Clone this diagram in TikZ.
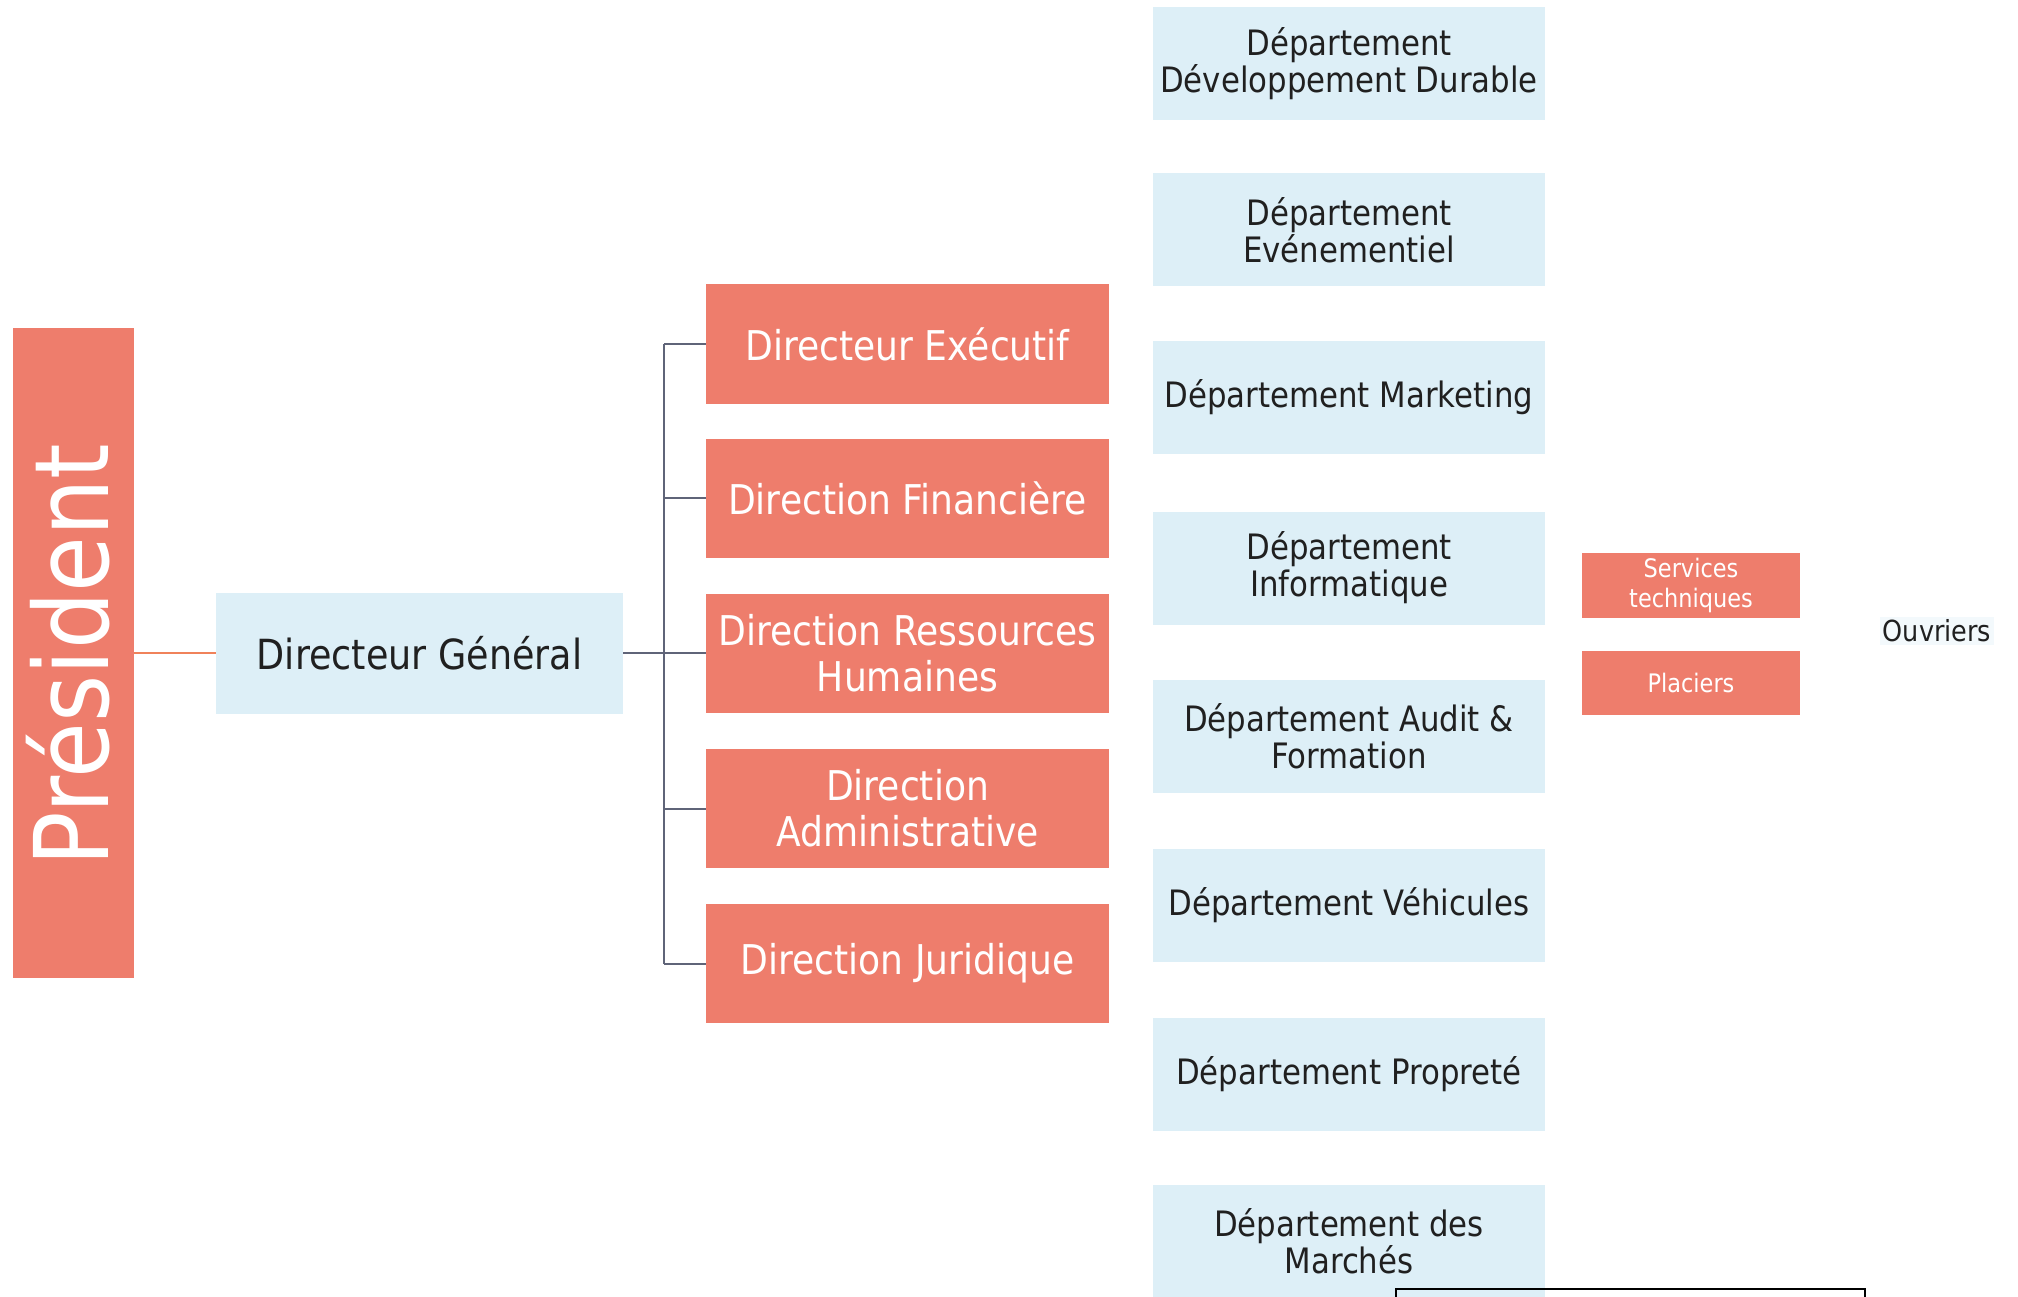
\documentclass[tikz,border=0pt]{standalone}
\usepackage{fontspec}
\setmainfont{DejaVu Sans}[FakeStretch=0.88]
\definecolor{redbox}{RGB}{238,125,108}
\definecolor{bluebox}{RGB}{221,239,247}
\definecolor{txtcol}{RGB}{32,32,32}
\definecolor{conncol}{RGB}{95,100,120}
\definecolor{orangeline}{RGB}{240,130,90}
\tikzset{
  redstyle/.style={fill=redbox, text=white, inner sep=0pt, minimum width=403pt, minimum height=119pt, align=center, font=\fontsize{41}{46}\selectfont},
  deptstyle/.style={fill=bluebox, text=txtcol, inner sep=0pt, minimum width=392pt, minimum height=113pt, align=center, font=\fontsize{35}{37}\selectfont},
  smallred/.style={fill=redbox, text=white, inner sep=0pt, minimum width=218pt, minimum height=64pt, align=center, font=\fontsize{25.5}{30}\selectfont},
  connline/.style={draw=conncol, line width=2pt},
}
\begin{document}
\begin{tikzpicture}[x=1pt,y=-1pt]
\useasboundingbox[fill=white] (0,0) rectangle (2018,1297);

% President
\node[fill=redbox, inner sep=0pt, minimum width=121pt, minimum height=650pt] (pres) at (73.5,653) {};
\node[text=white, rotate=90, font=\fontsize{103}{103}\selectfont, inner sep=0pt] (prestxt) at (68,655) {Président};

% Directeur General
\node[fill=bluebox, text=txtcol, inner sep=0pt, minimum width=407pt, minimum height=121pt, font=\fontsize{41.5}{46}\selectfont] (dg) at (419.5,653) {Directeur Général};

% Red boxes
\node[redstyle] (r1) at (907.5,344) {Directeur Exécutif};
\node[redstyle] (r2) at (907.5,498) {Direction Financière};
\node[redstyle] (r3) at (907.5,653) {Direction Ressources\\Humaines};
\node[redstyle] (r4) at (907.5,808.5) {Direction\\Administrative};
\node[redstyle] (r5) at (907.5,963.5) {Direction Juridique};

% Departments
\node[deptstyle] (d1) at (1349,63.5) {Département\\Développement Durable};
\node[deptstyle] (d2) at (1349,230) {Département\\Evénementiel};
\node[deptstyle] (d3) at (1349,397.5) {Département Marketing};
\node[deptstyle] (d4) at (1349,568) {Département\\Informatique};
\node[deptstyle] (d5) at (1349,736) {Département Audit \&\\Formation};
\node[deptstyle] (d6) at (1349,905) {Département Véhicules};
\node[deptstyle] (d7) at (1349,1074.5) {Département Propreté};
\node[deptstyle] (d8) at (1349,1241.5) {Département des\\Marchés};

% Small boxes
\node[smallred, minimum height=65pt] (st) at (1691,585.5) {Services\\techniques};
\node[smallred] (pl) at (1691,683) {Placiers};
\node[fill=bluebox!35, text=txtcol, inner sep=3pt, font=\fontsize{29}{32}\selectfont] (ouv) at (1937,631) {Ouvriers};

% Connectors
\draw[draw=orangeline, line width=2.5pt] (pres.east) -- (dg.west);
\coordinate (bx) at (664,653);
\draw[connline] (dg.east) -- (bx);
\draw[connline] (bx |- r1.west) -- (bx |- r5.west);
\foreach \r in {r1,r2,r3,r4,r5} {
  \draw[connline] (bx |- \r.west) -- (\r.west);
}

% partial frame at bottom
\draw[black, line width=2pt] (1396,1310) -- (1396,1289) -- (1865,1289) -- (1865,1310);
\end{tikzpicture}
\end{document}
